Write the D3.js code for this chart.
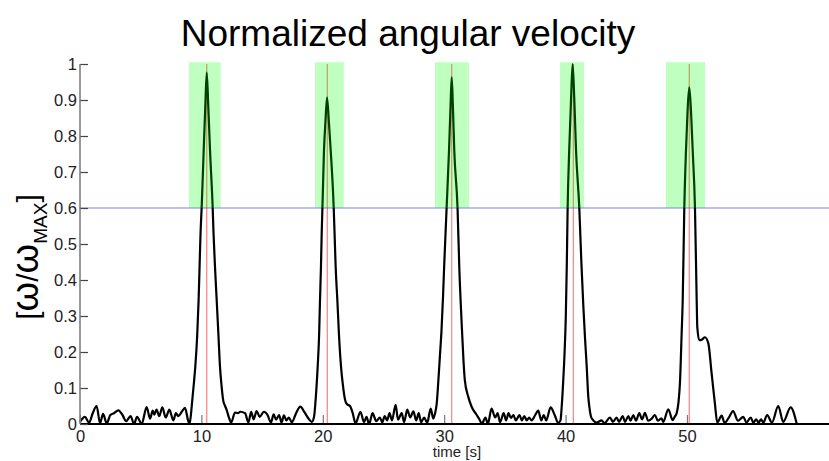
<!DOCTYPE html>
<html>
<head>
<meta charset="utf-8">
<script src="https://cdn.jsdelivr.net/npm/d3@7"></script>
<style>
  html, body { margin: 0; padding: 0; background: #fff; }
  svg { display: block; font-family: "Liberation Sans", Arial, sans-serif; }
</style>
</head>
<body>
<svg id="chart" width="829" height="461"></svg>
<script>
// ---- data ----
const timeS = [
  0.0, 0.4, 0.75, 1.05, 1.37, 1.65, 1.9, 2.2, 2.5, 2.8, 3.16, 3.5, 3.8, 4.17, 4.45, 4.7, 5.08, 5.49, 5.77, 5.99, 6.12, 6.3, 6.53, 6.78, 7.06, 7.36, 7.69, 7.9, 8.1, 8.4, 8.65, 8.9, 9.02,
  9.15, 9.25, 9.4, 9.5, 9.66, 9.77, 9.85, 9.93, 10.02, 10.19, 10.32, 10.44, 10.57, 10.71, 10.93, 11.0, 11.12, 11.26, 11.4, 11.53, 11.65, 11.8, 11.95, 12.08, 12.25, 12.45,
  12.77, 13.0, 13.2, 13.6, 13.87, 14.1, 14.3, 14.55, 14.8, 15.15, 15.45, 15.73, 15.95, 16.15, 16.4, 16.6, 16.8, 17.0, 17.2, 17.45, 17.8, 18.15, 18.5, 18.85, 19.1,
  19.28, 19.41, 19.58, 19.7, 19.77, 19.85, 19.91, 19.97, 20.1, 20.22, 20.35, 20.5, 20.65, 20.9, 20.97, 21.06, 21.2, 21.33, 21.5, 21.65, 21.85, 22.0, 22.24, 22.45, 22.7,
  23.1, 23.4, 23.6, 23.82, 24.1, 24.4, 24.7, 24.9, 25.1, 25.3, 25.5, 25.7, 26.0, 26.2, 26.5, 26.7, 26.96, 27.2, 27.46, 27.7, 27.9, 28.1, 28.35, 28.6, 28.89, 29.1,
  29.25, 29.38, 29.52, 29.65, 29.78, 29.9, 30.0, 30.1, 30.2, 30.4, 30.52, 30.62, 30.72, 30.83, 31.1, 31.25, 31.44, 31.6, 31.7, 31.98, 32.26, 32.68, 32.95, 33.1,
  33.4, 33.6, 33.9, 34.2, 34.4, 34.6, 34.9, 35.1, 35.3, 35.5, 35.7, 35.9, 36.2, 36.4, 36.6, 36.8, 37.0, 37.2, 37.5, 37.75, 38.0, 38.2, 38.4, 38.77, 39.1, 39.4, 39.58,
  39.68, 39.81, 39.92, 40.02, 40.1, 40.17, 40.3, 40.45, 40.58, 40.72, 40.86, 41.13, 41.3, 41.46, 41.6, 41.74, 41.87, 41.97, 42.1, 42.28,
  42.55, 42.97, 43.2, 43.66, 43.9, 44.2, 44.4, 44.7, 44.9, 45.17, 45.35, 45.58, 45.8, 46.07, 46.3, 46.54, 46.8, 47.1, 47.36, 47.6, 47.9, 48.05, 48.46, 48.82, 48.99,
  49.15, 49.3, 49.42, 49.56, 49.65, 49.78, 49.92, 50.05, 50.19, 50.33, 50.47, 50.66, 50.8, 50.85, 51.01, 51.25, 51.48, 51.76, 52.03, 52.3, 52.5,
  52.86, 53.1, 53.45, 53.8, 54.2, 54.64, 54.9, 55.25, 55.47, 55.7, 55.9, 56.1, 56.3, 56.6, 57.0, 57.52, 57.93, 58.54, 59.03
];
const omegaNorm = [
  0.006, 0.02, 0.004, 0.03, 0.05, 0.002, 0.028, 0.002, 0.025, 0.03, 0.038, 0.025, 0.008, 0.022, 0.0, 0.02, 0.0, 0.047, 0.015, 0.037, 0.026, 0.04, 0.022, 0.046, 0.018, 0.04, 0.01, 0.03, 0.022, 0.035, 0.045, 0.01, 0.0,
  0.03, 0.067, 0.12, 0.16, 0.25, 0.344, 0.437, 0.53, 0.6, 0.761, 0.88, 0.976, 0.88, 0.761, 0.6, 0.53, 0.437, 0.344, 0.25, 0.16, 0.11, 0.065, 0.05, 0.039, 0.02, 0.004,
  0.032, 0.03, 0.034, 0.03, 0.004, 0.034, 0.013, 0.036, 0.02, 0.034, 0.025, 0.004, 0.027, 0.012, 0.025, 0.004, 0.024, 0.01, 0.018, 0.005, 0.03, 0.048, 0.032, 0.014, 0.006,
  0.02, 0.067, 0.16, 0.25, 0.344, 0.437, 0.53, 0.6, 0.761, 0.84, 0.907, 0.84, 0.761, 0.6, 0.53, 0.437, 0.344, 0.25, 0.16, 0.11, 0.065, 0.055, 0.05, 0.032, 0.002,
  0.034, 0.005, 0.02, 0.0, 0.03, 0.008, 0.018, 0.005, 0.022, 0.01, 0.03, 0.01, 0.053, 0.012, 0.03, 0.005, 0.04, 0.018, 0.035, 0.01, 0.03, 0.005, 0.018, 0.003, 0.043, 0.015,
  0.03, 0.055, 0.12, 0.19, 0.26, 0.35, 0.44, 0.52, 0.6, 0.761, 0.88, 0.963, 0.88, 0.761, 0.6, 0.43, 0.28, 0.17, 0.122, 0.076, 0.048, 0.025, 0.01, 0.0,
  0.018, 0.0, 0.043, 0.018, 0.03, 0.005, 0.03, 0.01, 0.03, 0.017, 0.025, 0.01, 0.025, 0.01, 0.022, 0.01, 0.018, 0.01, 0.025, 0.037, 0.01, 0.025, 0.01, 0.046, 0.025, 0.003, 0.01,
  0.048, 0.122, 0.2, 0.3, 0.44, 0.6, 0.761, 0.9, 1.0, 0.9, 0.761, 0.6, 0.45, 0.33, 0.24, 0.16, 0.076, 0.045, 0.02, 0.01,
  0.004, 0.01, 0.002, 0.018, 0.006, 0.018, 0.006, 0.022, 0.006, 0.022, 0.009, 0.025, 0.009, 0.03, 0.013, 0.031, 0.009, 0.015, 0.025, 0.009, 0.016, 0.006, 0.041, 0.011, 0.02,
  0.03, 0.06, 0.113, 0.25, 0.344, 0.6, 0.761, 0.87, 0.935, 0.87, 0.761, 0.6, 0.344, 0.27, 0.233, 0.235, 0.241, 0.224, 0.141, 0.057, 0.004,
  0.023, 0.003, 0.018, 0.036, 0.009, 0.02, 0.004, 0.018, 0.004, 0.013, 0.004, 0.013, 0.004, 0.025, 0.004, 0.05, 0.006, 0.046, 0.002
];
const peakTimes = [10.44, 20.37, 30.62, 40.64, 50.19];
const windowStart = [8.98, 19.36, 29.24, 39.54, 48.27];
const windowEnd = [11.59, 21.73, 32.04, 41.52, 51.48];
const threshold = 0.6;
const windowTop = 1.005;
const xTicks = [0, 10, 20, 30, 40, 50];
const yTicks = [0, 0.1, 0.2, 0.3, 0.4, 0.5, 0.6, 0.7, 0.8, 0.9, 1];
const yTickLabels = ["0", "0.1", "0.2", "0.3", "0.4", "0.5", "0.6", "0.7", "0.8", "0.9", "1"];
const titleText = "Normalized angular velocity";
const xLabelText = "time [s]";

// ---- drawing ----
const svg = d3.select("#chart");
const x = d3.scaleLinear().domain([0, 61.7]).range([80, 829]);
const y = d3.scaleLinear().domain([0, 1]).range([424, 64]);

// threshold line
svg.append("line")
  .attr("x1", x(0)).attr("x2", 829)
  .attr("y1", y(threshold)).attr("y2", y(threshold))
  .attr("stroke", "#0000ff").attr("stroke-opacity", 0.35).attr("stroke-width", 1.3);

// peak markers
svg.selectAll("line.peak").data(peakTimes).join("line")
  .attr("class", "peak")
  .attr("x1", d => x(d)).attr("x2", d => x(d))
  .attr("y1", y(0)).attr("y2", y(1))
  .attr("stroke", "#ff0000").attr("stroke-opacity", 0.5).attr("stroke-width", 1.2);

// signal
const pts = timeS.map((t, i) => [t, omegaNorm[i]]);
const line = d3.line().x(d => x(d[0])).y(d => y(d[1])).curve(d3.curveMonotoneX);
svg.append("path").datum(pts)
  .attr("d", line)
  .attr("fill", "none").attr("stroke", "#000").attr("stroke-width", 2.2)
  .attr("stroke-linejoin", "round");

// axes
const xAxis = d3.axisBottom(x).tickValues(xTicks).tickFormat(d3.format("d")).tickSize(0).tickPadding(6);
const gx = svg.append("g").attr("transform", `translate(0,${y(0)})`).call(xAxis);
gx.select(".domain").remove();
gx.selectAll("text").attr("font-size", 16.5).attr("fill", "#222").attr("font-family", "Liberation Sans, Arial, sans-serif");
gx.selectAll(".tick").append("line").attr("y1", 0).attr("y2", -9).attr("stroke", "#777").attr("stroke-width", 1.2);
svg.append("line").attr("x1", x(0)).attr("x2", 829).attr("y1", y(0)).attr("y2", y(0))
  .attr("stroke", "#000").attr("stroke-width", 2);

const yAxis = d3.axisLeft(y).tickValues(yTicks).tickFormat((d, i) => yTickLabels[i]).tickSize(0).tickPadding(3);
const gy = svg.append("g").attr("transform", `translate(${x(0)},0)`).call(yAxis);
gy.select(".domain").remove();
gy.selectAll("text").attr("font-size", 16.5).attr("fill", "#222").attr("font-family", "Liberation Sans, Arial, sans-serif");
gy.selectAll(".tick").append("line").attr("x1", 0).attr("x2", 8).attr("stroke", "#444").attr("stroke-width", 1.2);
svg.append("line").attr("x1", x(0)).attr("x2", x(0)).attr("y1", y(0)).attr("y2", y(1))
  .attr("stroke", "#777").attr("stroke-width", 1.5);

// detection windows (translucent, drawn on top)
svg.selectAll("rect.win").data(windowStart).join("rect")
  .attr("class", "win")
  .attr("x", d => x(d))
  .attr("width", (d, i) => x(windowEnd[i]) - x(d))
  .attr("y", y(windowTop))
  .attr("height", y(threshold) - y(windowTop))
  .attr("fill", "#00ff00").attr("fill-opacity", 0.25);

// title
svg.append("text").attr("x", 408).attr("y", 46).attr("text-anchor", "middle")
  .attr("font-size", 37).attr("fill", "#000").text(titleText);

// x label
svg.append("text").attr("x", 457).attr("y", 457).attr("text-anchor", "middle")
  .attr("font-size", 15).attr("fill", "#222").text(xLabelText);

// y label
const yl = svg.append("text").attr("transform", "translate(38,257) rotate(-90)")
  .attr("text-anchor", "middle").attr("font-size", 30).attr("fill", "#000");
yl.append("tspan").text("[");
yl.append("tspan").attr("font-size", 38).text("ω");
yl.append("tspan").text("/");
yl.append("tspan").attr("font-size", 38).text("ω");
yl.append("tspan").attr("font-size", 19).attr("dy", 9).text("MAX");
yl.append("tspan").attr("dy", -9).text("]");
</script>
</body>
</html>
